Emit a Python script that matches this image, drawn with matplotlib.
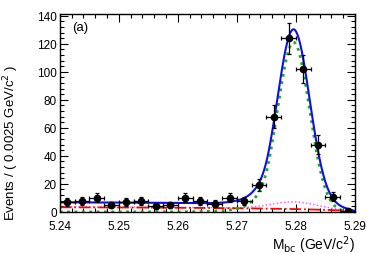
import numpy as np
import matplotlib.pyplot as plt
from matplotlib.ticker import MultipleLocator

plt.rcParams['font.family'] = ['Liberation Sans', 'DejaVu Sans']

# binned data, bin width 0.0025 GeV/c^2
bin_centers = [5.24125, 5.24375, 5.24625, 5.24875, 5.25125, 5.25375, 5.25625,
               5.25875, 5.26125, 5.26375, 5.26625, 5.26875, 5.27125, 5.27375,
               5.27625, 5.27875, 5.28125, 5.28375, 5.28625, 5.28875]
counts = [7, 8, 10, 5, 7, 8, 4, 5, 10, 8, 6, 10, 8, 19, 68, 124, 102, 48, 11, 1]

# fit model parameters
m0 = 5.29
argus_c = -20.0
argus_left = 3.3      # continuum level at 5.24
bb_left = 3.6         # BB background level at 5.24
bb_bump = 5.0
sig_amp = 121.0
sig_mean = 5.2796
sig_sigma = 0.0027
cb_alpha = 1.6
cb_n = 8.0


def argus(x):
    z = np.clip(1 - (x / m0) ** 2, 0, None)
    return x * np.sqrt(z) * np.exp(argus_c * z)


def crystal_ball(x):
    t = (x - sig_mean) / sig_sigma
    A = (cb_n / cb_alpha) ** cb_n * np.exp(-cb_alpha ** 2 / 2)
    B = cb_n / cb_alpha - cb_alpha
    tail = A / np.abs(B - t) ** cb_n
    return sig_amp * np.where(t > -cb_alpha, np.exp(-t ** 2 / 2), tail)


x = np.linspace(5.24, 5.29, 600)
norm = argus(np.array(5.24))
cont = argus_left * argus(x) / norm
bbar = bb_left * argus(x) / norm + bb_bump * np.exp(-(x - 5.2797) ** 2 / (2 * 0.0038 ** 2)) * (x < m0)
sig = crystal_ball(x)
total = sig + cont + bbar

fig = plt.figure(figsize=(3.74, 2.55), dpi=100)
ax = fig.add_axes([0.160, 0.165, 0.789, 0.775])

ax.plot(x, bbar, color='#ff44ff', ls=':', lw=1.0)
ax.plot(x, cont, color='red', ls='-.', lw=1.3)
ax.plot(x, sig, color='#22aa22', ls=':', lw=2.0)
ax.plot(x, total, color='#1010e0', lw=1.5)

cnt = np.array(counts)
ax.errorbar(bin_centers, cnt, xerr=0.00125, yerr=np.sqrt(cnt), fmt='o', color='black',
            ms=4.5, elinewidth=0.9, capsize=1.5, capthick=0.9)

ax.set_xlim(5.24, 5.29)
ax.set_ylim(0, 141)
ax.xaxis.set_major_locator(MultipleLocator(0.01))
ax.xaxis.set_minor_locator(MultipleLocator(0.002))
ax.yaxis.set_major_locator(MultipleLocator(20))
ax.yaxis.set_minor_locator(MultipleLocator(4))
ax.tick_params(which='both', direction='in', top=True, right=True, labelsize=8.5, width=0.8)
ax.tick_params(which='major', length=6, pad=2)
ax.tick_params(which='minor', length=3)
ax.tick_params(axis='x', which='major', pad=5.5)
ax.xaxis.set_major_formatter(plt.FuncFormatter(lambda v, p: f'{v:.2f}'))
for s in ax.spines.values():
    s.set_linewidth(1.0)

fig.text(0.03, 0.44, 'Events / ( 0.0025 GeV/c$^{2}$ )', fontsize=9.5,
         rotation=90, ha='center', va='center')
ax.set_xlabel('M$_{\\mathrm{bc}}$ (GeV/c$^{2}$)', fontsize=10, ha='right', x=1.0, labelpad=1)
ax.text(0.04, 0.92, '(a)', transform=ax.transAxes, fontsize=9.5)

plt.savefig('out.png', dpi=100)
